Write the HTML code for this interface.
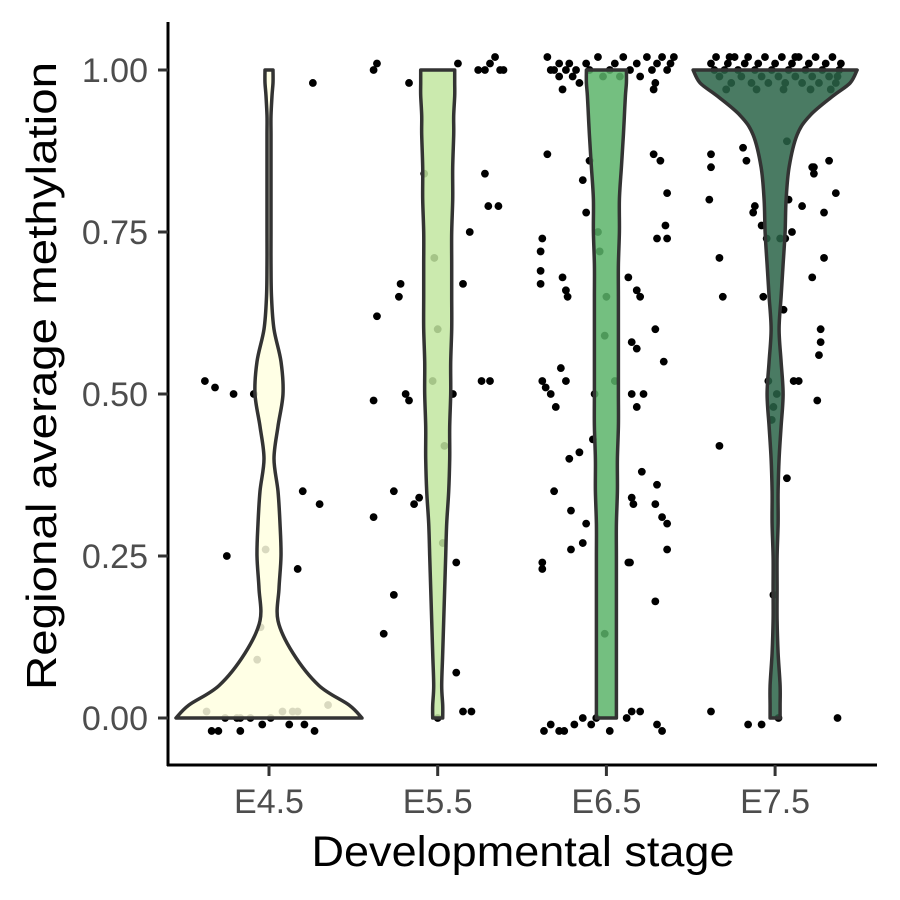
<!DOCTYPE html>
<html><head><meta charset="utf-8"><style>
body{margin:0;background:#fff}
svg{display:block}
text{font-family:"Liberation Sans",sans-serif}
</style></head><body>
<svg id="chart" width="900" height="900" viewBox="0 0 900 900">
<g id="points"></g>
<g id="violins"></g>
<g id="axes"></g>
</svg>
<script>
const categories = ["E4.5","E5.5","E6.5","E7.5"];
const colors = ["#ffffe0","#c2e6a0","#5cb46a","#2a6448"];
const yTicks = [0,0.25,0.5,0.75,1];
const yTickLabels = ["0.00","0.25","0.50","0.75","1.00"];
const levels = [0,0.02,0.05,0.1,0.15,0.2,0.25,0.3,0.35,0.4,0.45,0.5,0.55,0.6,0.65,0.7,0.75,0.8,0.85,0.9,0.93,0.96,0.98,1.0];
const densE45 = [93,80,50,24,9,10,12,11,9,5,9,14,12,5,2.5,2,2,2,2,2,2,3,4,4];
const densE55 = [5,5,4,5,6,7,8,9,11,12,12,13,13,14,14,14,14,15,15,16,16,17,17,17];
const densE65 = [10,10,10,10,10,10,10,10,11,11,12,12,12,12,12,12,13,13,15,17,18,19,20,20];
const densE75 = [5,5,5,3,2,2,2,3,3,4,6,8,6,4,6,8,10,11,14,22,35,58,75,82];
const densities = [densE45,densE55,densE65,densE75];
const ptsE45 = [[0.52,-0.38],[0.51,-0.32],[0.50,-0.21],[0.50,-0.09],[0.25,-0.25],[0.35,0.20],[0.33,0.30],[0.23,0.17],[0.98,0.26],[0.26,-0.02],[0.14,-0.05],[0.09,-0.07],[0.01,-0.37],[-0.02,-0.34],[-0.02,-0.30],[0.0,-0.26],[-0.02,-0.17],[0.0,-0.17],[0.0,-0.11],[-0.01,-0.04],[0.0,0.01],[0.01,0.08],[-0.01,0.12],[0.01,0.17],[-0.01,0.21],[-0.02,0.27],[0.02,0.35],[0.01,0.14],[0.0,-0.19]];
const ptsE55 = [[1.0,-0.38],[1.01,-0.36],[0.98,-0.17],[1.01,0.12],[1.0,0.24],[1.0,0.28],[1.01,0.31],[1.02,0.34],[1.0,0.37],[1.0,0.39],[0.84,0.28],[0.79,0.30],[0.79,0.36],[0.75,0.19],[0.84,-0.08],[0.67,-0.22],[0.65,-0.23],[0.62,-0.36],[0.49,-0.38],[0.50,-0.19],[0.49,-0.17],[0.52,-0.03],[0.52,0.26],[0.52,0.31],[0.67,0.15],[0.50,0.09],[0.42,0.04],[0.31,-0.38],[0.35,-0.26],[0.33,-0.14],[0.34,-0.11],[0.13,-0.32],[0.19,-0.26],[0.71,-0.02],[0.60,0.0],[0.27,0.03],[0.24,0.11],[0.07,0.11],[0.01,0.15],[0.01,0.20],[0.0,0.0]];
const ptsE65 = [[1.02,-0.35],[1.01,-0.28],[1.0,-0.33],[1.0,-0.31],[0.99,-0.28],[1.0,-0.24],[1.01,-0.22],[0.99,-0.20],[1.0,-0.18],[0.98,-0.16],[1.01,-0.12],[1.0,-0.10],[1.02,-0.05],[0.99,-0.02],[1.0,0.02],[1.01,0.05],[0.99,0.08],[1.02,0.1],[1.0,0.14],[1.01,0.18],[0.99,0.2],[1.02,0.24],[1.0,0.27],[1.01,0.3],[0.98,0.29],[1.02,0.33],[1.0,0.36],[1.01,0.38],[1.02,0.4],[0.97,-0.26],[0.97,0.28],
[0.87,-0.35],[0.86,-0.1],[0.83,-0.14],[0.78,-0.12],[0.75,-0.05],[0.87,0.28],[0.86,0.32],[0.81,0.36],[0.76,0.35],[0.74,0.30],[0.74,0.36],[0.74,-0.38],[0.72,-0.39],[0.69,-0.39],[0.67,-0.39],[0.68,-0.26],[0.66,-0.24],[0.65,-0.23],[0.72,-0.04],[0.65,0.0],[0.68,0.13],[0.66,0.18],[0.65,0.20],[0.6,0.29],[0.58,0.15],[0.57,0.18],[0.52,-0.38],[0.51,-0.36],[0.5,-0.33],[0.48,-0.30],[0.54,-0.27],[0.52,-0.24],[0.5,-0.07],[0.52,0.05],[0.5,0.15],[0.48,0.18],[0.5,0.22],[0.55,0.34],[0.43,-0.08],[0.40,-0.22],[0.41,-0.16],[0.35,-0.31],[0.32,-0.21],[0.3,-0.12],[0.26,-0.21],[0.27,-0.14],[0.23,-0.38],[0.24,-0.38],[0.38,0.21],[0.34,0.15],[0.33,0.16],[0.36,0.30],[0.33,0.29],[0.31,0.33],[0.3,0.36],[0.26,0.36],[0.24,0.14],[0.24,0.13],[0.18,0.29],[0.13,-0.01],[0.59,-0.01],
[-0.01,-0.33],[-0.02,-0.28],[-0.02,-0.25],[-0.01,-0.19],[0.0,-0.14],[-0.01,-0.09],[-0.02,0.02],[0.0,0.12],[0.01,0.15],[0.01,0.2],[-0.01,0.3],[-0.02,0.33],[-0.02,-0.37],[0.0,-0.06]];
const ptsE75 = [[1.01,-0.38],[1.02,-0.35],[0.99,-0.33],[1.0,-0.30],[1.01,-0.28],[0.98,-0.26],[1.02,-0.24],[1.0,-0.22],[0.99,-0.20],[1.01,-0.18],[1.02,-0.16],[0.98,-0.14],[1.0,-0.12],[1.01,-0.10],[0.99,-0.08],[1.02,-0.06],[0.98,-0.04],[1.0,-0.02],[1.01,0.0],[0.99,0.02],[1.02,0.04],[0.98,0.06],[1.0,0.08],[1.01,0.10],[0.99,0.12],[1.02,0.14],[0.98,0.16],[1.0,0.18],[1.01,0.20],[0.99,0.22],[1.02,0.24],[0.98,0.26],[1.0,0.28],[1.01,0.30],[0.99,0.32],[1.02,0.34],[0.98,0.36],[1.0,0.38],[1.01,0.39],[0.97,-0.29],[0.97,-0.11],[0.97,0.05],[0.97,0.21],[0.97,0.33],[1.02,-0.27],[1.02,0.12],[1.0,-0.36],[0.99,0.37],
[0.87,-0.38],[0.85,-0.38],[0.80,-0.39],[0.89,0.07],[0.88,-0.19],[0.86,-0.17],[0.86,0.32],[0.85,0.22],[0.85,0.23],[0.84,0.23],[0.81,0.36],[0.79,0.16],[0.80,0.08],[0.79,-0.12],[0.78,-0.13],[0.76,-0.08],[0.74,-0.05],[0.74,0.03],[0.74,0.06],[0.78,0.29],[0.75,0.1],[0.71,0.29],[0.71,-0.33],[0.68,0.22],[0.65,-0.31],[0.65,-0.07],[0.63,0.05],[0.60,0.27],[0.58,0.27],[0.56,0.26],[0.52,0.11],[0.52,0.14],[0.52,-0.04],[0.50,0.01],[0.49,0.25],[0.48,-0.01],[0.46,-0.02],[0.42,-0.33],[0.37,0.07],[0.19,-0.01],[0.01,-0.38],[-0.01,-0.16],[-0.01,-0.08],[0.0,0.02],[0.0,0.37]];
const points = [ptsE45,ptsE55,ptsE65,ptsE75];

const NS="http://www.w3.org/2000/svg";
const band=168.7, x0=269;
const xScale=i=>x0+i*band;
const yScale=v=>718-v*648;
const wScale=d=>d;
function mk(tag,attrs,parent){const e=document.createElementNS(NS,tag);for(const k in attrs)e.setAttribute(k,attrs[k]);parent.appendChild(e);return e;}
function smooth(pts){
  let d='M'+pts[0][0].toFixed(1)+','+pts[0][1].toFixed(1);
  for(let i=0;i<pts.length-1;i++){
    const p0=pts[Math.max(0,i-1)],p1=pts[i],p2=pts[i+1],p3=pts[Math.min(pts.length-1,i+2)];
    const c1=[p1[0]+(p2[0]-p0[0])/6,p1[1]+(p2[1]-p0[1])/6];
    const c2=[p2[0]-(p3[0]-p1[0])/6,p2[1]-(p3[1]-p1[1])/6];
    d+='C'+c1[0].toFixed(1)+','+c1[1].toFixed(1)+' '+c2[0].toFixed(1)+','+c2[1].toFixed(1)+' '+p2[0].toFixed(1)+','+p2[1].toFixed(1);
  }
  return d;
}
const gP=document.getElementById('points'),gV=document.getElementById('violins'),gA=document.getElementById('axes');

points.forEach((arr,i)=>{arr.forEach(([v,j])=>{
  const c=mk('circle',{cx:xScale(i+j),cy:yScale(v),r:3.9,fill:'#000'},gP);
  
  
});});

densities.forEach((dens,i)=>{
  const cx=xScale(i);
  const right=levels.map((v,k)=>[cx+wScale(dens[k]),yScale(v)]);
  const left=levels.map((v,k)=>[cx-wScale(dens[k]),yScale(v)]).reverse();
  const d=smooth(right)+'L'+smooth(left).slice(1)+'Z';
  const p=mk('path',{d:d,fill:colors[i],'fill-opacity':0.85,stroke:'#333','stroke-width':3.5,'stroke-linejoin':'round'},gV);
  
  
});

const ya=mk('line',{x1:168,y1:22,x2:168,y2:766,stroke:'#000','stroke-width':3},gA);

const xa=mk('line',{x1:167,y1:765,x2:877,y2:765,stroke:'#000','stroke-width':3},gA);

yTicks.forEach((v,k)=>{
  mk('line',{x1:158,y1:yScale(v),x2:168,y2:yScale(v),stroke:'#333','stroke-width':3},gA);
  const t=mk('text',{x:148,y:yScale(v)+12,'text-anchor':'end','font-size':34,fill:'#4d4d4d'},gA);
  t.textContent=yTickLabels[k];
  
});
categories.forEach((c,i)=>{
  mk('line',{x1:xScale(i),y1:765,x2:xScale(i),y2:776,stroke:'#333','stroke-width':3},gA);
  const t=mk('text',{x:xScale(i),y:813,'text-anchor':'middle','font-size':34,fill:'#4d4d4d'},gA);
  t.textContent=c;
  
});
const xt=mk('text',{x:523,y:866,'text-anchor':'middle','font-size':43,fill:'#000',textLength:423,lengthAdjust:'spacingAndGlyphs'},gA);
xt.textContent='Developmental stage';

const yt=mk('text',{x:0,y:0,'text-anchor':'middle','font-size':42,fill:'#000',textLength:628,lengthAdjust:'spacingAndGlyphs',transform:'translate(56,376) rotate(-90)'},gA);
yt.textContent='Regional average methylation';

</script>
</body></html>
